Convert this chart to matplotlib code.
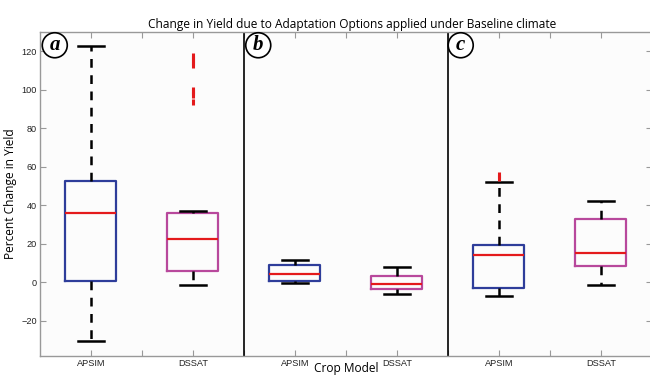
#!/usr/bin/env python3
"""
Box plots of yield change for APSIM and DSSAT under three adaptation option sets.
"""
import matplotlib
matplotlib.use("Agg")
import matplotlib.pyplot as plt

# crop models and panels
models = ["APSIM", "DSSAT"]
panels = ["a", "b", "c"]

# box statistics per panel, in the order APSIM, DSSAT
whis_hi = [122.4, 37.2, 11.8, 8.1, 52.1, 42.4]
q3 = [52.8, 36.0, 8.8, 3.3, 19.6, 32.6]
median = [36.2, 22.2, 4.5, -0.7, 14.4, 15.2]
q1 = [0.9, 5.9, 0.7, -3.6, -2.9, 8.7]
whis_lo = [-30.6, -1.4, -0.2, -6.2, -6.9, -1.4]
outliers = [
    [],
    [93.5, 97.0, 98.5, 100.0, 113.0, 114.5, 116.0, 117.5],
    [],
    [],
    [54.0, 55.5],
    [],
]

positions = [1, 3, 5, 7, 9, 11]
separators = [4, 8]
box_colors = ["#2e3d9a", "#b8489c"]

fig = plt.figure(figsize=(6.5, 3.76), dpi=100)
ax = fig.add_axes([0.0615, 0.053, 0.9415, 0.862])
ax.set_facecolor("#fcfcfc")

stats = []
for i in range(len(positions)):
    stats.append({
        "med": median[i], "q1": q1[i], "q3": q3[i],
        "whislo": whis_lo[i], "whishi": whis_hi[i],
        "fliers": outliers[i],
    })

bp = ax.bxp(stats, positions=positions, widths=1.0, showfliers=True,
            manage_ticks=False)

for i, box in enumerate(bp["boxes"]):
    box.set_color(box_colors[i % 2])
    box.set_linewidth(1.6)
for med in bp["medians"]:
    med.set_color("#e41a1c")
    med.set_linewidth(1.6)
for w in bp["whiskers"]:
    w.set_color("black")
    w.set_linestyle((0, (3.5, 3)))
    w.set_linewidth(1.8)
for c in bp["caps"]:
    c.set_color("black")
    c.set_linewidth(1.8)
for f in bp["fliers"]:
    f.set_marker("|")
    f.set_markeredgecolor("#e41a1c")
    f.set_markersize(5)
    f.set_markeredgewidth(2.2)

for s in separators:
    ax.axvline(s, color="black", linewidth=1.2)

ax.set_xlim(0, 12)
ax.set_ylim(-38.3, 129.9)
ax.set_xticks(range(1, 12))
# model names repeat in every panel, gaps between them have bare ticks
xlabels = []
for k in range(1, 12):
    xlabels.append(models[(k // 2) % 2] if k % 2 == 1 else "")
ax.set_xticklabels(xlabels)
ax.set_yticks(range(-20, 121, 20))

for lab in ax.get_xticklabels() + ax.get_yticklabels():
    lab.set_family("Liberation Sans")
    lab.set_fontsize(6.6)
    lab.set_color("#222222")
ax.tick_params(direction="in", length=4, top=True, right=True, color="#999999",
               pad=2)
for sp in ax.spines.values():
    sp.set_color("#999999")
    sp.set_linewidth(1.0)

label_font = ["Open Sans", "DejaVu Sans"]
ax.set_title("Change in Yield due to Adaptation Options applied under Baseline climate",
             family=label_font, fontsize=8.6, pad=3, x=0.51)
ax.set_ylabel("Percent Change in Yield", family=label_font, fontsize=8.6, labelpad=3)
ax.set_xlabel("Crop Model", family=label_font, fontsize=8.6)
ax.xaxis.label.set_va("bottom")
ax.xaxis.set_label_coords(0.5, -0.059)

# circled panel letters
letter_x = [0.29, 4.28, 8.25]
for px, name in zip(letter_x, panels):
    ax.text(px, 123.0, name, ha="center", va="center", family="Liberation Serif",
            fontsize=15, fontweight="bold", style="italic",
            bbox=dict(boxstyle="circle,pad=0.12", fc="white", ec="black", lw=1.2))

fig.savefig("out.png", dpi=100)
